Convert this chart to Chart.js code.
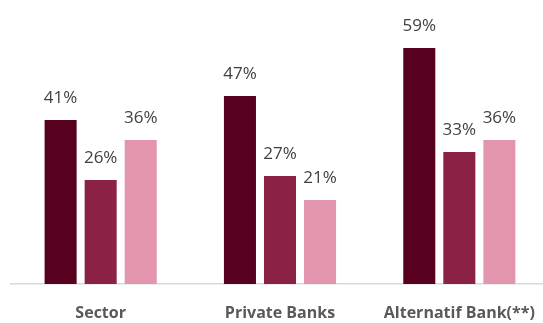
<!DOCTYPE html>
<html>
<head>
<meta charset="utf-8">
<script src="https://cdn.jsdelivr.net/npm/chart.js@4/dist/chart.umd.min.js"></script>
<style>
html,body{margin:0;padding:0;background:#fff;overflow:hidden;}
#wrap{width:549px;height:323px;position:relative;}
</style>
</head>
<body>
<div id="wrap"><canvas id="c"></canvas></div>
<script>
const categories = ['Sector', 'Private Banks', 'Alternatif Bank(**)'];
const series1 = [41, 47, 59];
const series2 = [26, 27, 33];
const series3 = [36, 21, 36];
const seriesNames = ['Series 1', 'Series 2', 'Series 3'];
const colors = ['#58001f', '#8b2245', '#e495ae'];

const labelPlugin = {
  id: 'valueLabels',
  afterDatasetsDraw(chart) {
    const ctx = chart.ctx;
    ctx.save();
    ctx.font = '17px "Open Sans"';
    ctx.fillStyle = '#404040';
    ctx.textAlign = 'center';
    ctx.textBaseline = 'middle';
    chart.data.datasets.forEach((ds, i) => {
      chart.getDatasetMeta(i).data.forEach((bar, j) => {
        ctx.fillText(ds.data[j] + '%', bar.x, bar.y - 22);
      });
    });
    ctx.restore();
  }
};

new Chart(document.getElementById('c'), {
  type: 'bar',
  data: {
    labels: categories,
    datasets: [series1, series2, series3].map((d, i) => ({
      label: seriesNames[i],
      data: d,
      backgroundColor: colors[i],
      barPercentage: 0.8,
      categoryPercentage: 0.67
    }))
  },
  options: {
    responsive: true,
    maintainAspectRatio: false,
    animation: false,
    layout: { padding: { left: 11, right: 0, top: 4, bottom: 0 } },
    plugins: { legend: { display: false }, tooltip: { enabled: false } },
    scales: {
      x: {
        grid: { display: false, drawTicks: false },
        border: { display: true, color: '#d9d9d9', width: 1.5 },
        ticks: {
          padding: 20,
          color: '#595959',
          font: { family: '"Open Sans"', size: 16, weight: 'bold', lineHeight: 1.2 }
        },
        afterFit(scale) {
          scale.height = 39;
          scale.paddingLeft = 0;
          scale.paddingRight = 0;
        }
      },
      y: {
        display: false,
        min: 0,
        max: 70
      }
    }
  },
  plugins: [labelPlugin]
});
</script>
</body>
</html>
